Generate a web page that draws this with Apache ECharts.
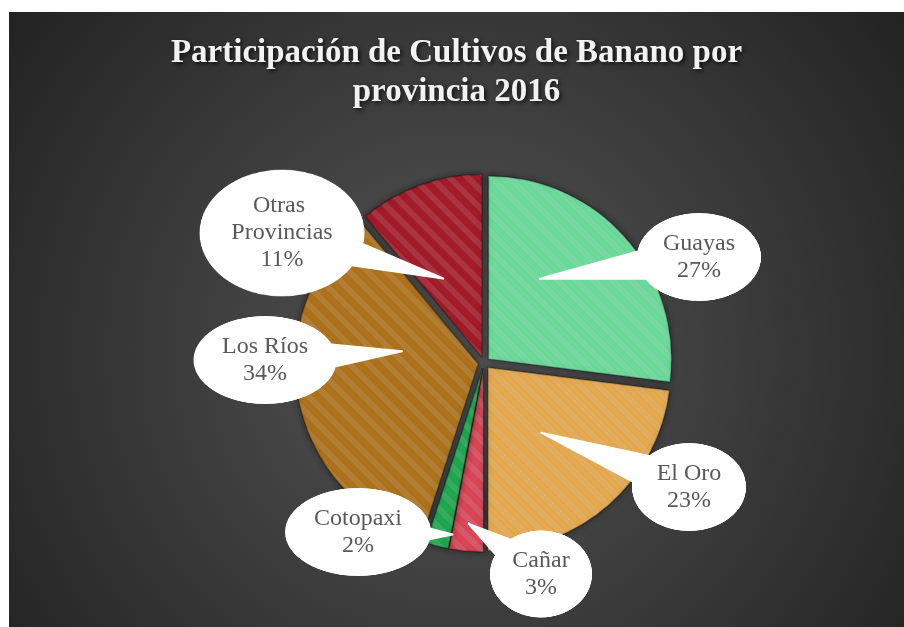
<!DOCTYPE html>
<html>
<head>
<meta charset="utf-8">
<script src="https://cdn.jsdelivr.net/npm/echarts@6/dist/echarts.min.js"></script>
<style>
  html, body { margin: 0; padding: 0; background: #ffffff; }
  #chart { position: absolute; left: 9px; top: 12px; width: 895px; height: 615px; }
</style>
</head>
<body>
<div id="chart"></div>
<script>
// datos
const provincias = ['Guayas', 'El Oro', 'Cañar', 'Cotopaxi', 'Los Ríos', 'Otras Provincias'];
const porcentajes = [27, 23, 3, 2, 34, 11];
const colores = ['#6fe3a0', '#eeaf50', '#e2485a', '#1fae52', '#b4761c', '#a91c2a'];

// posicion de los globos (centro y tamaño) y de la punta
const globoCentro = [[690, 245], [680, 475], [532, 562], [349, 520], [256, 348], [273, 221]];
const globoTam = [[125, 89], [115, 89], [103, 88], [147, 89], [144, 89], [166, 128]];
const puntaRadio = [0.52, 0.46, 0.85, 0.92, 0.42, 0.48];
const puntaGiro = [-15, 2, 0, -4, 19, -6]; // grados respecto al centro del sector

const centro = [475, 351];
const radio = 183;
const separacion = 6;
const fuente = "'Liberation Serif', 'Times New Roman', serif";

// imagen de elipse blanca para el fondo de las etiquetas
const elipse = document.createElement('canvas');
elipse.width = 300;
elipse.height = 200;
const ctx = elipse.getContext('2d');
ctx.fillStyle = '#ffffff';
ctx.beginPath();
ctx.ellipse(150, 100, 149, 99, 0, 0, Math.PI * 2);
ctx.fill();

const total = porcentajes.reduce((a, b) => a + b, 0);
let acc = 0;
const angMedio = porcentajes.map((v) => {
  const m = ((acc + v / 2) / total) * Math.PI * 2;
  acc += v;
  return m;
});

const chart = echarts.init(document.getElementById('chart'));

// sectores separados (todos seleccionados)
const dataSectores = provincias.map((name, i) => ({
  name: name,
  value: porcentajes[i],
  selected: true,
  itemStyle: { color: colores[i] }
}));

// serie invisible solo para los globos
const dataGlobos = provincias.map((name, i) => {
  const w = globoTam[i][0];
  const lines = i === 5 ? 3 : 2;
  const pv = (globoTam[i][1] - lines * 27) / 2;
  const tw = i === 5 ? 130 : w - 16;
  return {
    name: name,
    value: porcentajes[i],
    label: {
      width: tw,
      padding: [pv, (w - tw) / 2]
    }
  };
});

chart.setOption({
  animation: false,
  backgroundColor: {
    type: 'radial',
    x: 0.5,
    y: 0.55,
    r: 0.9,
    colorStops: [
      { offset: 0, color: '#555555' },
      { offset: 1, color: '#232323' }
    ]
  },
  title: {
    text: 'Participación de Cultivos de Banano por\nprovincia 2016',
    left: 'center',
    top: 17,
    textStyle: {
      color: '#f2f2f2',
      fontFamily: fuente,
      fontWeight: 'bold',
      fontSize: 33,
      lineHeight: 39,
      textShadowColor: 'rgba(0,0,0,0.7)',
      textShadowBlur: 4,
      textShadowOffsetX: 2,
      textShadowOffsetY: 2
    }
  },
  series: [
    {
      type: 'pie',
      z: 2,
      center: centro,
      radius: radio,
      startAngle: 90,
      clockwise: true,
      selectedMode: 'multiple',
      selectedOffset: separacion,
      silent: true,
      label: { show: false },
      labelLine: { show: false },
      itemStyle: {
        borderColor: 'rgba(0,0,0,0.15)',
        borderWidth: 1.5,
        shadowBlur: 6,
        shadowColor: 'rgba(0,0,0,0.35)',
        decal: {
          symbol: 'rect',
          symbolSize: 1,
          color: 'rgba(255,255,255,0.12)',
          dashArrayX: [1, 0],
          dashArrayY: [6, 7],
          rotation: Math.PI / 4
        }
      },
      select: {
        itemStyle: { borderColor: 'rgba(0,0,0,0.15)', borderWidth: 1.5 }
      },
      data: dataSectores
    },
    {
      type: 'pie',
      z: 6,
      center: centro,
      radius: radio,
      startAngle: 90,
      clockwise: true,
      silent: true,
      avoidLabelOverlap: false,
      percentPrecision: 0,
      itemStyle: { color: 'rgba(0,0,0,0)' },
      label: {
        show: true,
        position: 'outside',
        formatter: '{b}\n{d}%',
        overflow: 'break',
        color: '#595959',
        fontFamily: fuente,
        fontSize: 24,
        lineHeight: 27,
        align: 'center',
        backgroundColor: { image: elipse }
      },
      labelLine: {
        show: true,
        smooth: false,
        lineStyle: { color: '#ffffff', width: 2, join: 'round', cap: 'round' }
      },
      labelLayout: function (params) {
        const i = params.dataIndex;
        const m = angMedio[i] + (puntaGiro[i] * Math.PI) / 180;
        const d = separacion + radio * puntaRadio[i];
        const tip = [centro[0] + d * Math.sin(m), centro[1] - d * Math.cos(m)];
        const c = globoCentro[i];
        const dx = c[0] - tip[0];
        const dy = c[1] - tip[1];
        const len = Math.sqrt(dx * dx + dy * dy);
        const px = -dy / len;
        const py = dx / len;
        const pts = [];
        for (let k = -22; k <= 22; k += 2) {
          pts.push(tip);
          pts.push([c[0] + px * k, c[1] + py * k]);
        }
        pts.push(tip);
        return {
          x: c[0],
          y: c[1],
          align: 'center',
          verticalAlign: 'middle',
          labelLinePoints: pts
        };
      },
      data: dataGlobos
    }
  ]
});

window.addEventListener('resize', chart.resize);
</script>
</body>
</html>
